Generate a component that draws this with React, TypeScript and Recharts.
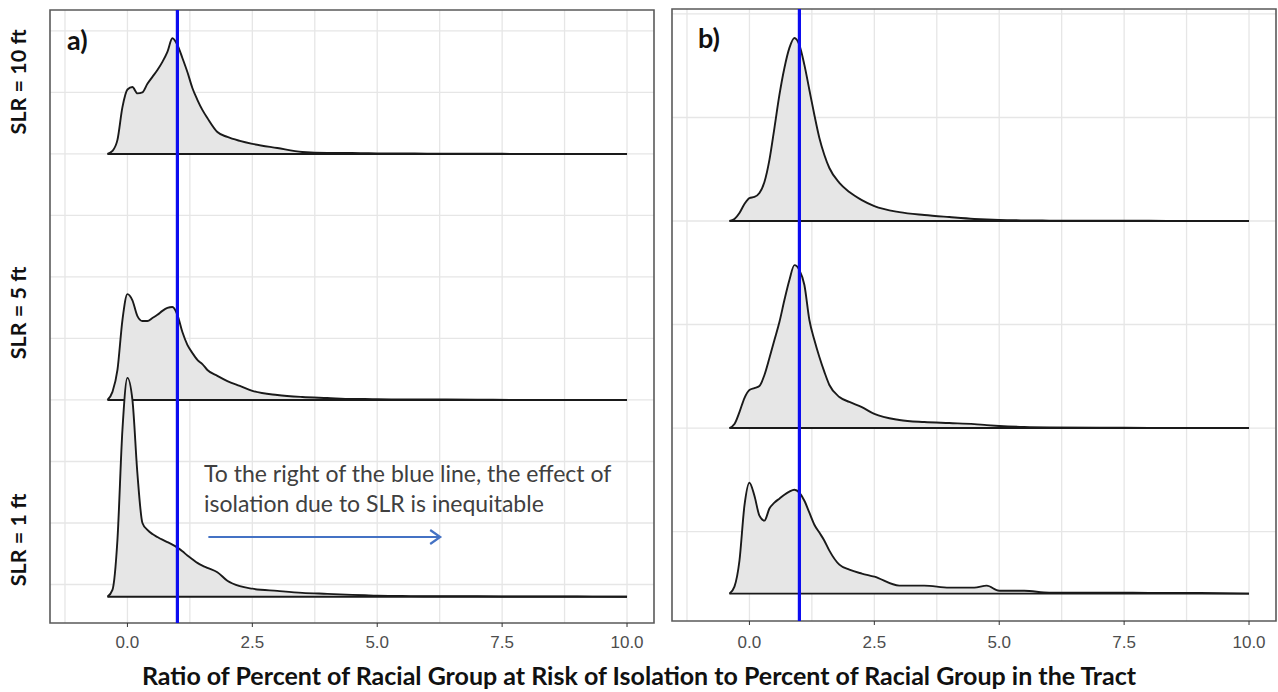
import { ComposedChart, Area, XAxis, YAxis, CartesianGrid, ReferenceLine, ReferenceArea } from 'recharts'

// shared x grid (ratio values) for every ridge
const xGrid = [
  -0.4, -0.3, -0.2, -0.1, 0, 0.1, 0.2, 0.3, 0.4, 0.5, 0.6, 0.7, 0.8, 0.9, 1.0, 1.1, 1.2, 1.3, 1.4, 1.5,
  1.6, 1.8, 2.0, 2.25, 2.5, 3, 3.5, 4, 4.5, 4.75, 5, 5.5, 6, 7, 8, 9, 10,
]

// panel a) densities
const aSlr10 = [
  0, 0.012, 0.057, 0.19, 0.262, 0.272, 0.246, 0.25, 0.285, 0.313, 0.341, 0.374, 0.415, 0.47, 0.443, 0.39,
  0.333, 0.268, 0.22, 0.179, 0.146, 0.089, 0.069, 0.053, 0.041, 0.024, 0.008, 0.004, 0.004, 0.003, 0.002,
  0.002, 0.001, 0.001, 0, 0, 0,
]
const aSlr5 = [
  0, 0.033, 0.122, 0.325, 0.43, 0.405, 0.341, 0.321, 0.321, 0.333, 0.346, 0.362, 0.374, 0.378, 0.346, 0.276,
  0.224, 0.191, 0.163, 0.146, 0.122, 0.098, 0.077, 0.057, 0.037, 0.02, 0.012, 0.008, 0.004, 0.004, 0.003,
  0.002, 0.002, 0.001, 0, 0, 0,
]
const aSlr1 = [
  0, 0.028, 0.232, 0.679, 0.89, 0.8, 0.5, 0.3, 0.272, 0.255, 0.243, 0.232, 0.222, 0.212, 0.2, 0.185, 0.168,
  0.153, 0.138, 0.127, 0.118, 0.1, 0.065, 0.043, 0.033, 0.024, 0.016, 0.012, 0.008, 0.006, 0.004, 0.003,
  0.002, 0.002, 0.001, 0.001, 0,
]

// panel b) densities
const bSlr10 = [
  0, 0.01, 0.039, 0.082, 0.111, 0.116, 0.135, 0.188, 0.295, 0.449, 0.609, 0.739, 0.836, 0.884, 0.85, 0.754,
  0.633, 0.512, 0.401, 0.319, 0.256, 0.184, 0.14, 0.101, 0.072, 0.043, 0.029, 0.019, 0.01, 0.007, 0.005,
  0.003, 0.002, 0.002, 0.001, 0, 0,
]
const bSlr5 = [
  0, 0.019, 0.077, 0.145, 0.184, 0.193, 0.203, 0.256, 0.338, 0.425, 0.512, 0.618, 0.715, 0.787, 0.763, 0.691,
  0.522, 0.425, 0.343, 0.271, 0.208, 0.15, 0.126, 0.101, 0.068, 0.039, 0.029, 0.024, 0.019, 0.014, 0.01,
  0.005, 0.003, 0.002, 0.001, 0, 0,
]
const bSlr1 = [
  0, 0.034, 0.159, 0.425, 0.536, 0.473, 0.377, 0.353, 0.411, 0.44, 0.459, 0.478, 0.493, 0.502, 0.488, 0.449,
  0.391, 0.333, 0.295, 0.256, 0.208, 0.14, 0.116, 0.097, 0.082, 0.039, 0.039, 0.029, 0.029, 0.039, 0.014,
  0.014, 0.005, 0.005, 0.004, 0.003, 0,
]

const ridgeBaselines = [3, 2, 1.2] // 10 ft, 5 ft, 1 ft
const slrLabels = ['SLR = 10 ft', 'SLR = 5 ft', 'SLR = 1 ft']
const slrLabelPos = [3.293, 2.354, 1.431]

const xDomain: [number, number] = [-1.55, 10.54]
const xTicks = [0, 2.5, 5, 7.5, 10]
const xGridLines = [-1.25, 0, 1.25, 2.5, 3.75, 5, 6.25, 7.5, 8.75, 10]

const yDomainA: [number, number] = [1.0935, 3.585]
const yDomainB: [number, number] = [1.068, 4.024]
const yGridA = [1.25, 1.5, 1.75, 2, 2.25, 2.5, 2.75, 3, 3.25, 3.5]
const yGridB = [1.5, 2, 2.5, 3, 3.5, 4]

const threshold = 1
const arrowFrom = 1.62
const arrowTo = 6.26
const arrowY = 1.443

const FONT = 'Lato, "Open Sans", sans-serif'
const AXIS_FONT = '"Liberation Sans", Arial, sans-serif'

function buildRows(series: number[][]) {
  return xGrid.map((x, i) => ({
    x,
    r0: [ridgeBaselines[0], ridgeBaselines[0] + series[0][i]],
    r1: [ridgeBaselines[1], ridgeBaselines[1] + series[1][i]],
    r2: [ridgeBaselines[2], ridgeBaselines[2] + series[2][i]],
  }))
}

const Arrow = (props: any) => {
  const { x1, y1, x2, y2 } = props
  return (
    <g>
      <line x1={x1} y1={y1} x2={x2 - 1} y2={y2} stroke="#4472c4" strokeWidth={2.2} />
      <path
        d={`M${x2 - 10},${y2 - 7} L${x2},${y2} L${x2 - 10},${y2 + 7}`}
        fill="none"
        stroke="#4472c4"
        strokeWidth={2.2}
      />
    </g>
  )
}

const SlrTick = (props: any) => {
  const { y, payload } = props
  const idx = slrLabelPos.indexOf(payload.value)
  return (
    <text
      x={0}
      y={0}
      transform={`translate(18, ${y}) rotate(-90)`}
      textAnchor="middle"
      dominantBaseline="central"
      fontFamily={FONT}
      fontWeight={700}
      fontSize={21.5}
      fill="#111"
    >
      {slrLabels[idx]}
    </text>
  )
}

interface PanelProps {
  series: number[][]
  yDomain: [number, number]
  yGrid: number[]
  width: number
  height: number
  margin: { top: number; right: number; left: number; bottom: number }
  showLabels?: boolean
  showArrow?: boolean
  xAxisHeight: number
  tickMargin: number
}

function RidgePanel({
  series,
  yDomain,
  yGrid,
  width,
  height,
  margin,
  showLabels,
  showArrow,
  xAxisHeight,
  tickMargin,
}: PanelProps) {
  const rows = buildRows(series)
  return (
    <ComposedChart width={width} height={height} data={rows} margin={margin}>
      <CartesianGrid
        stroke="#e6e6e6"
        strokeWidth={1.3}
        verticalValues={xGridLines}
        horizontalValues={yGrid}
      />
      <XAxis
        dataKey="x"
        type="number"
        domain={xDomain}
        allowDataOverflow
        ticks={xTicks}
        tickFormatter={(v) => v.toFixed(1)}
        axisLine={false}
        tickSize={4}
        tickMargin={tickMargin}
        tickLine={{ stroke: '#333' }}
        tick={{ fill: '#4d4d4d', fontSize: 17, fontFamily: AXIS_FONT }}
        height={xAxisHeight}
      />
      <YAxis
        type="number"
        domain={yDomain}
        allowDataOverflow
        hide={!showLabels}
        width={showLabels ? 50 : 0}
        ticks={slrLabelPos}
        axisLine={false}
        tickLine={false}
        tick={<SlrTick />}
      />
      {['r0', 'r1', 'r2'].map((k) => (
        <Area
          key={k}
          dataKey={k}
          type="monotone"
          fill="#e6e6e6"
          fillOpacity={1}
          stroke="#1a1a1a"
          strokeWidth={1.9}
          dot={false}
          activeDot={false}
          isAnimationActive={false}
        />
      ))}
      <ReferenceLine x={threshold} stroke="#0c0cf0" strokeWidth={3.2} />
      {showArrow && (
        <ReferenceLine
          segment={[
            { x: arrowFrom, y: arrowY },
            { x: arrowTo, y: arrowY },
          ]}
          shape={<Arrow />}
        />
      )}
      <ReferenceArea
        x1={xDomain[0]}
        x2={xDomain[1]}
        y1={yDomain[0]}
        y2={yDomain[1]}
        fill="none"
        stroke="#5a5a5a"
        strokeWidth={1.6}
        ifOverflow="visible"
      />
    </ComposedChart>
  )
}

export default function App() {
  return (
    <div
      style={{
        position: 'absolute',
        left: 0,
        top: 0,
        width: 1278,
        height: 692,
        background: '#fff',
        overflow: 'hidden',
      }}
    >
      <div style={{ position: 'absolute', left: 0, top: 0 }}>
        <RidgePanel
          series={[aSlr10, aSlr5, aSlr1]}
          yDomain={yDomainA}
          yGrid={yGridA}
          width={660}
          height={665}
          margin={{ top: 10, right: 6, left: 0, bottom: 0 }}
          showLabels
          showArrow
          xAxisHeight={42}
          tickMargin={9}
        />
      </div>
      <div style={{ position: 'absolute', left: 668, top: 0 }}>
        <RidgePanel
          series={[bSlr10, bSlr5, bSlr1]}
          yDomain={yDomainB}
          yGrid={yGridB}
          width={610}
          height={665}
          margin={{ top: 9, right: 2, left: 4, bottom: 0 }}
          xAxisHeight={44}
          tickMargin={11}
        />
      </div>
      <div
        style={{ position: 'absolute', left: 67, top: 23, fontFamily: FONT, fontWeight: 700, fontSize: 27, color: '#111' }}
      >
        a)
      </div>
      <div
        style={{ position: 'absolute', left: 698, top: 21, fontFamily: FONT, fontWeight: 700, fontSize: 27, color: '#111' }}
      >
        b)
      </div>
      <div
        style={{
          position: 'absolute',
          left: 204,
          top: 458,
          fontFamily: FONT,
          fontSize: 23,
          lineHeight: '30px',
          color: '#404040',
          whiteSpace: 'nowrap',
        }}
      >
        To the right of the blue line, the effect of
        <br />
        isolation due to SLR is inequitable
      </div>
      <div
        style={{
          position: 'absolute',
          left: 0,
          top: 661,
          width: 1278,
          height: 28,
          textAlign: 'center',
          fontFamily: FONT,
          fontWeight: 700,
          fontSize: 25,
          lineHeight: '28px',
          color: '#111',
          whiteSpace: 'nowrap',
        }}
      >
        Ratio of Percent of Racial Group at Risk of Isolation to Percent of Racial Group in the Tract
      </div>
    </div>
  )
}
